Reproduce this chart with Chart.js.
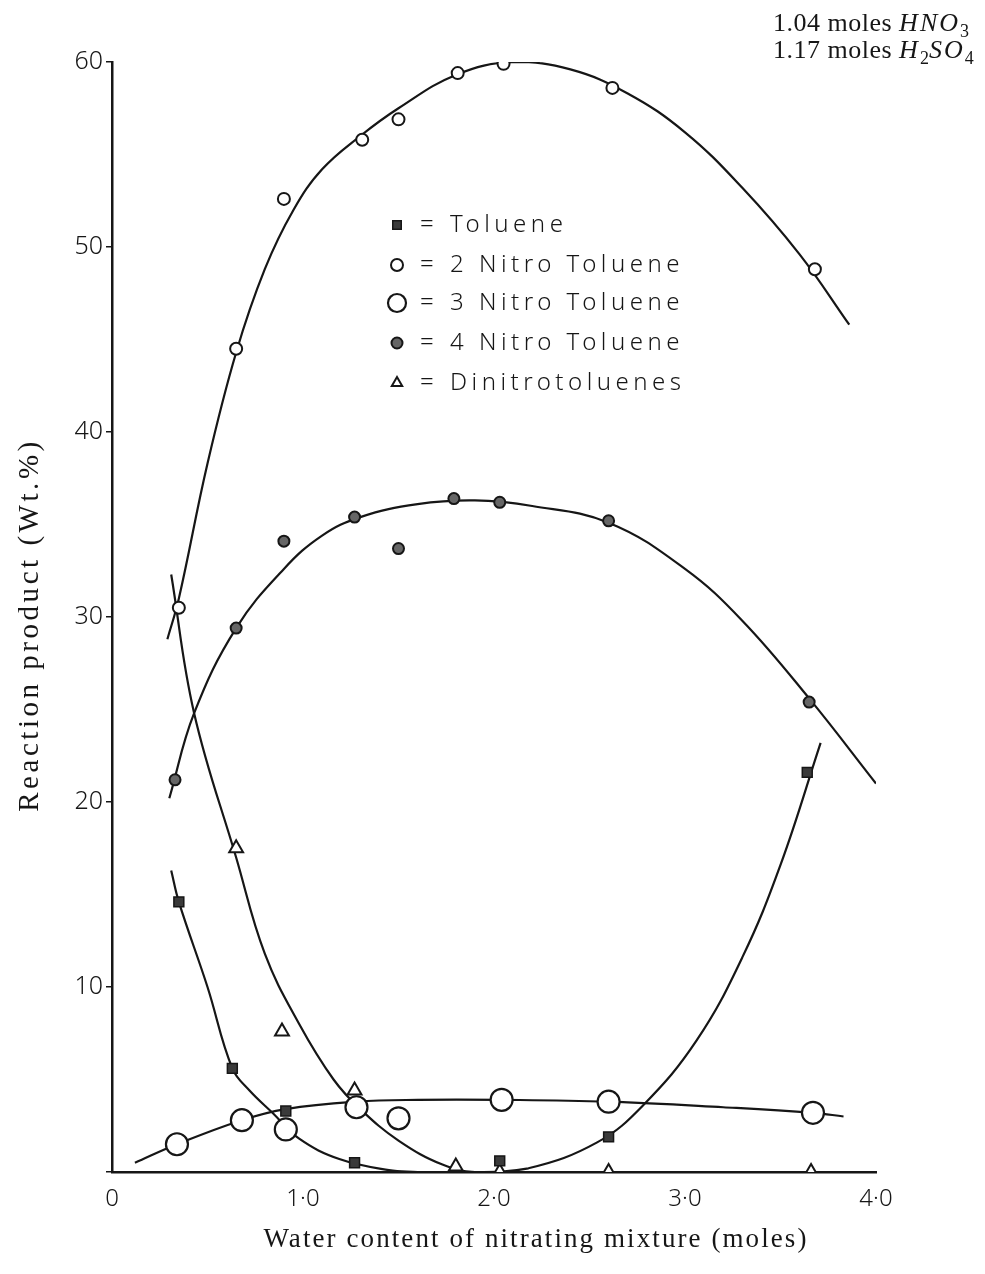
<!DOCTYPE html>
<html lang="en">
<head>
  <meta charset="UTF-8" />
  <title>Toluene nitration products vs water content</title>
  <script src="https://cdn.jsdelivr.net/npm/chart.js"></script>
  <style>
    html,body{margin:0;padding:0;background:#fff;}
    canvas{display:block;}
  </style>
</head>
<body>
<canvas id="chart" width="985" height="1274"></canvas>
<script>
// ── measured points: water content (moles) vs reaction product (wt.%) ─────
const tolueneX  = [0.35, 0.63, 0.91, 1.27, 2.03, 2.60, 3.64];
const tolueneY  = [14.6, 5.6, 3.3, 0.5, 0.6, 1.9, 21.6];
const nitro2X   = [0.35, 0.65, 0.90, 1.31, 1.50, 1.81, 2.05, 2.62, 3.68];
const nitro2Y   = [30.5, 44.5, 52.6, 55.8, 56.9, 59.4, 59.9, 58.6, 48.8];
const nitro3X   = [0.34, 0.68, 0.91, 1.28, 1.50, 2.04, 2.60, 3.67];
const nitro3Y   = [1.5, 2.8, 2.3, 3.5, 2.9, 3.9, 3.8, 3.2];
const nitro4X   = [0.33, 0.65, 0.90, 1.27, 1.50, 1.79, 2.03, 2.60, 3.65];
const nitro4Y   = [21.2, 29.4, 34.1, 35.4, 33.7, 36.4, 36.2, 35.2, 25.4];
const dinitroX  = [0.65, 0.89, 1.27, 1.80, 2.03, 2.60, 3.66];
const dinitroY  = [17.5, 7.6, 4.4, 0.3, 0.0, 0.0, 0.0];

// ── hand-drawn curves ────────────────────────────────────────────────────
const curve2X = [0.29, 0.35, 0.5, 0.65, 0.8, 0.95, 1.1, 1.3, 1.5, 1.8, 2.1, 2.4, 2.7, 3.0, 3.3, 3.6, 3.86];
const curve2Y = [28.8, 31.0, 38.3, 44.3, 48.8, 52.0, 54.2, 56.0, 57.5, 59.3, 60.0, 59.6, 58.3, 56.2, 53.2, 49.6, 45.8];
const curve4X = [0.30, 0.43, 0.65, 0.9, 1.1, 1.3, 1.6, 1.9, 2.2, 2.6, 3.0, 3.3, 3.65, 4.0];
const curve4Y = [20.2, 24.8, 29.4, 32.6, 34.4, 35.4, 36.1, 36.3, 36.0, 35.1, 32.6, 29.8, 25.6, 21.0];
const curveUX = [0.31, 0.43, 0.65, 0.8, 0.98, 1.16, 1.3, 1.5, 1.73, 1.9, 2.18, 2.54, 2.78, 3.06, 3.3, 3.5, 3.71];
const curveUY = [32.3, 24.8, 17.0, 11.8, 8.0, 5.0, 3.4, 1.7, 0.4, 0.0, 0.2, 1.6, 3.6, 7.1, 11.6, 16.6, 23.2];
const curveTX = [0.31, 0.35, 0.5, 0.63, 0.72, 0.84, 0.98, 1.19, 1.45, 1.6];
const curveTY = [16.3, 14.6, 10.0, 5.6, 4.4, 3.2, 1.8, 0.7, 0.1, 0.0];
const curve3X = [0.12, 0.34, 0.68, 0.91, 1.28, 1.6, 2.04, 2.6, 3.2, 3.67, 3.83];
const curve3Y = [0.5, 1.5, 2.8, 3.4, 3.8, 3.9, 3.9, 3.8, 3.5, 3.2, 3.0];

const xTicks = [0, 1, 2, 3, 4];
const yTicks = [10, 20, 30, 40, 50, 60];

const ink = '#161616';
const pts = (xs, ys) => xs.map((x, i) => ({x, y: ys[i]}));

const curve = (xs, ys) => ({
  data: pts(xs, ys), showLine: true, pointRadius: 0, borderColor: ink,
  borderWidth: 2.2, tension: 0.4, order: 2
});

const markers = [
  {label: 'Toluene',         data: pts(tolueneX, tolueneY), pointStyle: 'rect',     pointRadius: 7,  pointBackgroundColor: '#3a3a3a', pointBorderWidth: 1.5},
  {label: '2 Nitro Toluene', data: pts(nitro2X, nitro2Y),   pointStyle: 'circle',   pointRadius: 6,  pointBackgroundColor: '#fff',    pointBorderWidth: 2},
  {label: '3 Nitro Toluene', data: pts(nitro3X, nitro3Y),   pointStyle: 'circle',   pointRadius: 11, pointBackgroundColor: '#fff',    pointBorderWidth: 2.2},
  {label: '4 Nitro Toluene', data: pts(nitro4X, nitro4Y),   pointStyle: 'circle',   pointRadius: 5.5,pointBackgroundColor: '#666',    pointBorderWidth: 2},
  {label: 'Dinitrotoluenes', data: pts(dinitroX, dinitroY), pointStyle: 'triangle', pointRadius: 8,  pointBackgroundColor: '#fff',    pointBorderWidth: 2}
].map(d => Object.assign(d, {pointBorderColor: ink, showLine: false, order: 1}));

// fit a string to a measured span by spreading its letters
function spread(ctx, text, width){
  ctx.letterSpacing = '0px';
  const natural = ctx.measureText(text).width;
  ctx.letterSpacing = Math.max(0, (width - natural) / (text.length - 1)) + 'px';
}

// "1.04 moles" + italic formula with subscripts
function formula(ctx, parts, x, y){
  let cx = x;
  parts.forEach(([txt, kind]) => {
    if (kind === 'sub')      { ctx.font = '18px "Liberation Serif"'; ctx.letterSpacing = '0px'; }
    else if (kind === 'it')  { ctx.font = 'italic 26px "Liberation Serif"'; ctx.letterSpacing = '2px'; }
    else                     { ctx.font = '26px "Liberation Serif"'; ctx.letterSpacing = '0.5px'; }
    ctx.fillText(txt, cx, kind === 'sub' ? y + 6 : y);
    cx += ctx.measureText(txt).width;
  });
  return cx;
}

const annotations = {
  id: 'annotations',
  afterDraw(chart){
    const ctx = chart.ctx;
    ctx.save();
    ctx.fillStyle = ink;
    ctx.textBaseline = 'middle';

    // axis titles
    ctx.textAlign = 'center';
    ctx.font = '27px "Liberation Serif"';
    spread(ctx, 'Water content of nitrating mixture (moles)', 543);
    ctx.fillText('Water content of nitrating mixture (moles)', 536, 1240);
    ctx.save();
    ctx.translate(30, 625);
    ctx.rotate(-Math.PI / 2);
    ctx.font = '29px "Liberation Serif"';
    spread(ctx, 'Reaction product (Wt.%)', 370);
    ctx.fillText('Reaction product (Wt.%)', 0, 0);
    ctx.restore();

    // legend inside the plot
    const rows = [225, 265, 303, 343, 383];
    chart.data.datasets.filter(d => d.order === 1).forEach((d, i) => {
      const y = rows[i];
      ctx.fillStyle = d.pointBackgroundColor;
      ctx.strokeStyle = ink;
      ctx.lineWidth = d.pointBorderWidth;
      const r = d.pointStyle === 'circle' && d.pointRadius > 8 ? 9 : Math.min(d.pointRadius, 6);
      Chart.helpers.drawPoint(ctx, {pointStyle: d.pointStyle, radius: r, borderWidth: d.pointBorderWidth, rotation: 0}, 397, y);
      ctx.fillStyle = ink;
      ctx.textAlign = 'left';
      ctx.font = '300 24px "Noto Sans"';
      ctx.letterSpacing = '0px';
      ctx.fillText('=', 420, y);
      ctx.letterSpacing = '4.5px';
      ctx.fillText(d.label, 450, y);
    });

    // acid charge note, top right
    ctx.textAlign = 'left';
    ctx.textBaseline = 'alphabetic';
    formula(ctx, [['1.04 moles '], ['HNO', 'it'], ['3', 'sub']], 773, 31);
    formula(ctx, [['1.17 moles '], ['H', 'it'], ['2', 'sub'], ['SO', 'it'], ['4', 'sub']], 773, 58);
    ctx.restore();
  }
};

new Chart(document.getElementById('chart'), {
  type: 'scatter',
  data: {
    datasets: [
      ...markers,
      curve(curve2X, curve2Y),
      curve(curve4X, curve4Y),
      curve(curveUX, curveUY),
      curve(curveTX, curveTY),
      curve(curve3X, curve3Y)
    ]
  },
  options: {
    responsive: false,
    animation: false,
    layout: {padding: {top: 62, right: 109, bottom: 0, left: 0}},
    plugins: {legend: {display: false}, tooltip: {enabled: false}},
    scales: {
      x: {
        type: 'linear', min: 0, max: 4,
        afterBuildTicks: s => { s.ticks = xTicks.map(v => ({value: v})); },
        afterFit: s => { s.height = 102; },
        grid: {display: true, drawOnChartArea: false, drawTicks: false},
        border: {color: ink, width: 2.5},
        ticks: {
          padding: 13, color: ink, font: {family: 'Noto Sans', size: 24, weight: 300},
          callback: v => v === 0 ? '0' : v.toFixed(1).replace('.', '·')
        }
      },
      y: {
        min: 0, max: 60,
        afterBuildTicks: s => { s.ticks = [0, ...yTicks].map(v => ({value: v})); },
        afterFit: s => { s.width = 112; },
        grid: {drawOnChartArea: false, tickLength: 6, color: ink, lineWidth: 1.5},
        border: {color: ink, width: 2.5},
        ticks: {
          padding: 3, color: ink, font: {family: 'Noto Sans', size: 25, weight: 300},
          callback: v => v === 0 ? '' : v
        }
      }
    }
  },
  plugins: [annotations]
});
</script>
</body>
</html>
